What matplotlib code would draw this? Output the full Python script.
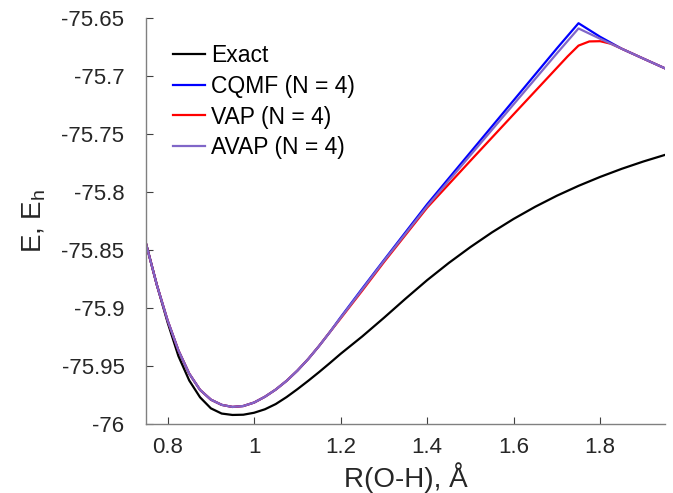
import matplotlib.pyplot as plt
from matplotlib.ticker import FuncFormatter

plt.rcParams['font.family'] = ['Liberation Sans', 'DejaVu Sans']

# dane
r_exact = [0.75, 0.775, 0.80, 0.825, 0.85, 0.875, 0.90, 0.925, 0.95, 0.975, 1.0,
           1.025, 1.05, 1.075, 1.1, 1.125, 1.15, 1.175, 1.2, 1.25, 1.3, 1.35,
           1.4, 1.45, 1.5, 1.55, 1.6, 1.65, 1.7, 1.75, 1.8, 1.85, 1.9, 1.95]
e_exact = [-75.8443, -75.8800, -75.9125, -75.9415, -75.9625, -75.9770, -75.9865,
           -75.9910, -75.9922, -75.9920, -75.9903, -75.9873, -75.9828, -75.9768,
           -75.9700, -75.9628, -75.9553, -75.9475, -75.9395, -75.9245, -75.9085,
           -75.8920, -75.8760, -75.8612, -75.8475, -75.8348, -75.8232, -75.8127,
           -75.8032, -75.7947, -75.7870, -75.7800, -75.7737, -75.7680]

r_low = [0.75, 0.775, 0.80, 0.825, 0.85, 0.875, 0.90, 0.925, 0.95, 0.975, 1.0,
         1.025, 1.05, 1.075, 1.1, 1.125, 1.15, 1.175]
e_low = [-75.8445, -75.8800, -75.9108, -75.9366, -75.9566, -75.9706, -75.9790,
         -75.9835, -75.9853, -75.9845, -75.9815, -75.9765, -75.9703, -75.9628,
         -75.9540, -75.9440, -75.9328, -75.9208]

r_cqmf = r_low + [1.2, 1.25, 1.3, 1.4, 1.5, 1.6, 1.7, 1.75, 1.8, 1.85, 1.9, 1.95]
e_cqmf = e_low + [-75.9080, -75.8832, -75.8588, -75.8106, -75.7658, -75.7210,
                  -75.6762, -75.6545, -75.6662, -75.6765, -75.6850, -75.6934]

r_vap = r_low + [1.2, 1.25, 1.3, 1.4, 1.5, 1.6, 1.7, 1.725, 1.75, 1.775, 1.8,
                 1.825, 1.85, 1.9, 1.95]
e_vap = e_low + [-75.9090, -75.8850, -75.8605, -75.8135, -75.7731, -75.7330,
                 -75.6930, -75.6830, -75.6738, -75.6702, -75.6700, -75.6722,
                 -75.6765, -75.6850, -75.6934]

r_avap = r_low + [1.2, 1.25, 1.3, 1.4, 1.5, 1.6, 1.7, 1.75, 1.8, 1.85, 1.9, 1.95]
e_avap = e_low + [-75.9085, -75.8840, -75.8595, -75.8123, -75.7683, -75.7244,
                  -75.6805, -75.6590, -75.6679, -75.6765, -75.6850, -75.6934]

fig = plt.figure(figsize=(6.73, 4.93), dpi=100)
ax = fig.add_axes([146 / 673, 69 / 493, 519 / 673, 406 / 493])

ax.plot(r_exact, e_exact, color='black', linewidth=1.6, label='Exact')
ax.plot(r_cqmf, e_cqmf, color='#0000ff', linewidth=1.6, label='CQMF (N = 4)')
ax.plot(r_vap, e_vap, color='#ff0000', linewidth=1.6, label='VAP (N = 4)')
ax.plot(r_avap, e_avap, color='#8066c8', linewidth=1.6, label='AVAP (N = 4)')

ax.set_xlim(0.75, 1.95)
ax.set_ylim(-76, -75.65)
ax.set_xticks([0.8, 1.0, 1.2, 1.4, 1.6, 1.8])
ax.set_yticks([-76, -75.95, -75.9, -75.85, -75.8, -75.75, -75.7, -75.65])
fmt = FuncFormatter(lambda v, p: f"{v:g}")
ax.xaxis.set_major_formatter(fmt)
ax.yaxis.set_major_formatter(fmt)

ax.spines['top'].set_visible(False)
ax.spines['right'].set_visible(False)
for s in ['left', 'bottom']:
    ax.spines[s].set_color('#808080')
    ax.spines[s].set_linewidth(1.0)
ax.tick_params(direction='in', length=5, width=0.8, color='#404040',
               labelsize=16, labelcolor='#262626')
ax.tick_params(axis='y', pad=15.5)
ax.tick_params(axis='x', pad=9.5)

ax.set_xlabel('R(O-H), Å', fontsize=20, color='#262626', labelpad=3)
ax.set_ylabel('E, E$_\\mathregular{h}$', fontsize=20, color='#262626', labelpad=10)

ax.legend(loc='upper left', bbox_to_anchor=(0.052, 0.935), frameon=False,
          fontsize=16.5, handlelength=1.4, handletextpad=0.25, labelspacing=0.33,
          borderaxespad=0, borderpad=0)

plt.savefig('out.png', dpi=100)
